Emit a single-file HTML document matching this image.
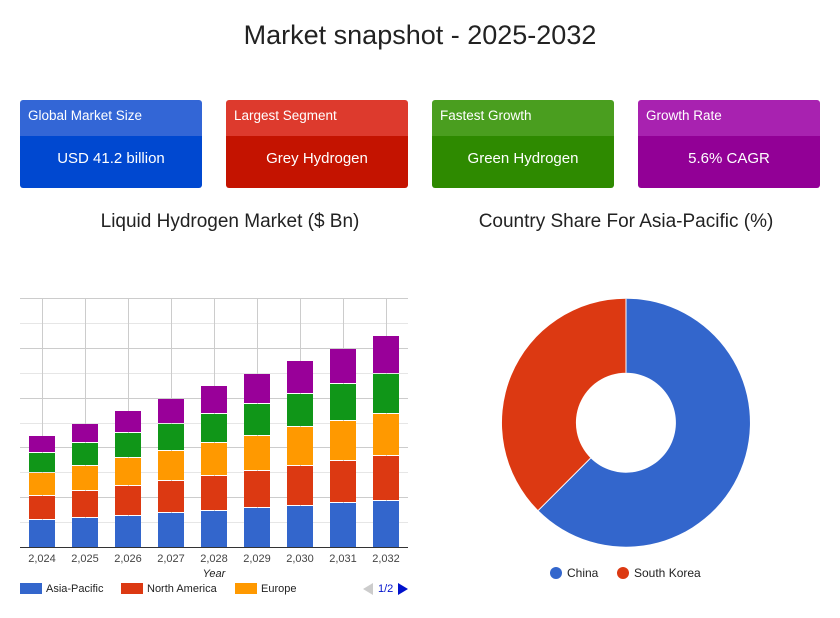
<!DOCTYPE html>
<html><head><meta charset="utf-8"><style>
body{margin:0;width:840px;height:618px;background:#fff;font-family:"Liberation Sans",sans-serif;position:relative;overflow:hidden}
.t{position:absolute;left:0;width:840px;text-align:center;top:20px;font-size:27px;color:#222}
.card{position:absolute;top:100px;width:182px;height:88px;border-radius:3px;overflow:hidden;color:#fff}
.card .h{height:36px;line-height:31px;padding-left:8px;font-size:13.5px}
.card .v{height:52px;line-height:46px;text-align:center;font-size:15px}
.st{position:absolute;top:211px;font-size:19px;color:#222;text-align:center}
</style></head><body>
<div class="t">Market snapshot - 2025-2032</div>
<div class="card" style="left:20px"><div class="h" style="background:#3366d6">Global Market Size</div><div class="v" style="background:#0048d0">USD 41.2 billion</div></div>
<div class="card" style="left:226px"><div class="h" style="background:#dd3a2d">Largest Segment</div><div class="v" style="background:#c41300">Grey Hydrogen</div></div>
<div class="card" style="left:432px"><div class="h" style="background:#4a9e1f">Fastest Growth</div><div class="v" style="background:#2e8a00">Green Hydrogen</div></div>
<div class="card" style="left:638px"><div class="h" style="background:#a822b0">Growth Rate</div><div class="v" style="background:#920096">5.6% CAGR</div></div>
<div class="st" style="left:20px;width:420px">Liquid Hydrogen Market ($ Bn)</div>
<div class="st" style="left:420px;width:412px">Country Share For Asia-Pacific (%)</div>
<svg width="840" height="618" style="position:absolute;left:0;top:0" font-family="Liberation Sans, sans-serif">
<g stroke="#ccc" stroke-width="1">
<line x1="20" x2="408" y1="298.5" y2="298.5"/><line x1="20" x2="408" y1="323.5" y2="323.5" stroke="#e6e6e6"/><line x1="20" x2="408" y1="348.5" y2="348.5"/><line x1="20" x2="408" y1="373.5" y2="373.5" stroke="#e6e6e6"/><line x1="20" x2="408" y1="398.5" y2="398.5"/><line x1="20" x2="408" y1="423.5" y2="423.5" stroke="#e6e6e6"/><line x1="20" x2="408" y1="447.5" y2="447.5"/><line x1="20" x2="408" y1="472.5" y2="472.5" stroke="#e6e6e6"/><line x1="20" x2="408" y1="497.5" y2="497.5"/><line x1="20" x2="408" y1="522.5" y2="522.5" stroke="#e6e6e6"/>
<line x1="42.5" x2="42.5" y1="298" y2="547"/><line x1="85.5" x2="85.5" y1="298" y2="547"/><line x1="128.5" x2="128.5" y1="298" y2="547"/><line x1="171.5" x2="171.5" y1="298" y2="547"/><line x1="214.5" x2="214.5" y1="298" y2="547"/><line x1="257.5" x2="257.5" y1="298" y2="547"/><line x1="300.5" x2="300.5" y1="298" y2="547"/><line x1="343.5" x2="343.5" y1="298" y2="547"/><line x1="386.5" x2="386.5" y1="298" y2="547"/>
</g>
<g id="bars"></g>
<line x1="20" x2="408" y1="547.5" y2="547.5" stroke="#333"/>
<g font-size="11" fill="#444" text-anchor="middle">
<text x="42" y="562">2,024</text><text x="85" y="562">2,025</text><text x="128" y="562">2,026</text><text x="171" y="562">2,027</text><text x="214" y="562">2,028</text><text x="257" y="562">2,029</text><text x="300" y="562">2,030</text><text x="343" y="562">2,031</text><text x="386" y="562">2,032</text>
<text x="214" y="577" font-style="italic" fill="#222">Year</text>
</g>
<g font-size="11" fill="#222">
<rect x="20" y="583" width="22" height="11" fill="#3366cc"/><text x="46" y="592">Asia-Pacific</text>
<rect x="121" y="583" width="22" height="11" fill="#dc3912"/><text x="147" y="592">North America</text>
<rect x="235" y="583" width="22" height="11" fill="#ff9900"/><text x="261" y="592">Europe</text>
<polygon points="363,589 373,583 373,595" fill="#ccc"/><text x="378" y="592" fill="#0011cc">1/2</text><polygon points="398,583 408,589 398,595" fill="#0011cc"/>
</g>
<path d="M626,298.7 A124,124 0 1 1 538.3,510.4 L590.6,458.1 A50,50 0 1 0 626,372.7 Z" fill="#3366cc"/>
<path d="M538.3,510.4 A124,124 0 0 1 626,298.7 L626,372.7 A50,50 0 0 0 590.6,458.1 Z" fill="#dc3912"/>
<line x1="538.3" y1="510.4" x2="590.6" y2="458.1" stroke="#fff"/>
<line x1="626" y1="298.7" x2="626" y2="372.7" stroke="#fff"/>
<g font-size="12" fill="#222"><circle cx="556" cy="573" r="6" fill="#3366cc"/><text x="567" y="577">China</text>
<circle cx="623" cy="573" r="6" fill="#dc3912"/><text x="634" y="577">South Korea</text></g>
</svg>
<script>
var d=[[42,520,496,473,453,436],[85,518,491,466,443,424],[128,516,486,458,433,411],[171,513,481,451,424,399],[214,511,476,443,414,386],[257,508,471,436,404,374],[300,506,466,427,394,361],[343,503,461,421,384,349],[386,501,456,414,374,336]];
var c=["#3366cc","#dc3912","#ff9900","#109618","#990099"],s="";
d.forEach(function(r){var b=547;for(var i=0;i<5;i++){var t=r[i+1];s+='<rect x="'+(r[0]-13)+'" y="'+t+'" width="26" height="'+(b-t-(i?1:0))+'" fill="'+c[i]+'"/>';b=t;}});
document.getElementById("bars").innerHTML=s;
</script>
</body></html>
